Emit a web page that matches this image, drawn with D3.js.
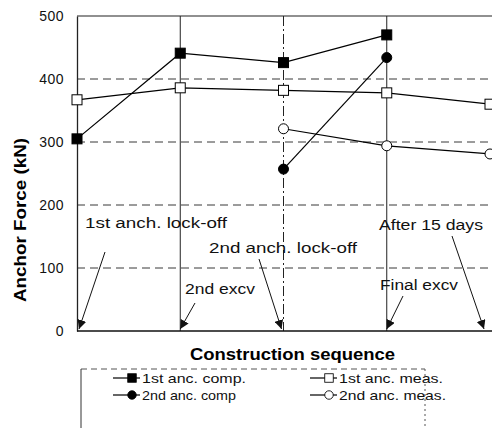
<!DOCTYPE html>
<html><head><meta charset="utf-8">
<script src="https://cdn.jsdelivr.net/npm/d3@7"></script>
<style>body{margin:0;background:#fff}svg{display:block}text{font-family:"Liberation Sans",Arial,sans-serif}</style>
</head><body><svg id="c" width="492" height="428"></svg>
<script>
const stages = [1, 2, 3, 4, 5];
const yTicks = [0, 100, 200, 300, 400, 500];
const s1Comp = [[1, 305], [2, 441], [3, 426], [4, 470]];
const s1Meas = [[1, 367], [2, 386], [3, 382], [4, 378], [5, 360]];
const s2Comp = [[3, 257], [4, 434]];
const s2Meas = [[3, 321], [4, 294], [5, 281]];
const seriesNames = ["1st anc. comp.", "1st anc. meas.", "2nd anc. comp", "2nd anc. meas."];
const annotations = [
  {text: "1st anch. lock-off", stage: 1, tx: 85, ty: 228, w: 142, ax: 105, ay: 252, dx: 2},
  {text: "2nd excv", stage: 2, tx: 185, ty: 294, w: 70, ax: 195, ay: 303, dx: 0},
  {text: "2nd anch. lock-off", stage: 3, tx: 209, ty: 253, w: 148, ax: 259, ay: 259, dx: -2},
  {text: "Final excv", stage: 4, tx: 380, ty: 290, w: 78, ax: 403, ay: 296, dx: 0},
  {text: "After 15 days", stage: 5, tx: 379, ty: 230, w: 104, ax: 452, ay: 236, dx: -6}
];

const svg = d3.select("#c");
const x = d3.scaleLinear().domain([1, 5]).range([77, 490]);
const y = d3.scaleLinear().domain([0, 500]).range([331, 16]);

// grid
const g = svg.append("g");
[100, 200, 300, 400].forEach(v => {
  g.append("line").attr("x1", x(1)).attr("x2", 492).attr("y1", y(v)).attr("y2", y(v))
    .attr("stroke", "#222").attr("stroke-width", 0.9).attr("stroke-dasharray", "8,5");
});
[2, 4].forEach(s => {
  g.append("line").attr("x1", x(s)).attr("x2", x(s)).attr("y1", y(500)).attr("y2", y(0))
    .attr("stroke", "#222").attr("stroke-width", 1);
});
g.append("line").attr("x1", x(3)).attr("x2", x(3)).attr("y1", y(500)).attr("y2", y(0))
  .attr("stroke", "#222").attr("stroke-width", 1).attr("stroke-dasharray", "10,3,2,3");
g.append("line").attr("x1", x(1)).attr("x2", 492).attr("y1", y(500)).attr("y2", y(500)).attr("stroke", "#222").attr("stroke-width", 1.2);

// axes
const yAxis = d3.axisLeft(y).tickValues(yTicks).tickSize(0).tickPadding(13);
const ya = svg.append("g").attr("transform", `translate(${x(1)},0)`).call(yAxis);
ya.select(".domain").attr("stroke", "#222").attr("stroke-width", 1.3);
ya.selectAll("text").attr("font-size", 14).attr("fill", "#111").attr("letter-spacing", 0.5);
const xAxis = d3.axisBottom(x).tickValues([]).tickSize(0);
const xa = svg.append("g").attr("transform", `translate(0,${y(0)})`).call(xAxis);
xa.select(".domain").attr("stroke", "#111").attr("stroke-width", 1.6).attr("d", `M${x(1)},0H492`);

svg.append("text").attr("transform", `translate(26,220) rotate(-90)`).attr("text-anchor", "middle")
  .attr("font-size", 16).attr("font-weight", "bold").attr("textLength", 164).attr("lengthAdjust", "spacingAndGlyphs")
  .text("Anchor Force (kN)");
svg.append("text").attr("x", 190).attr("y", 360)
  .attr("font-size", 16).attr("font-weight", "bold").attr("textLength", 205).attr("lengthAdjust", "spacingAndGlyphs")
  .text("Construction sequence");

// annotations
svg.append("defs").append("marker").attr("id", "ah").attr("viewBox", "0 0 10 10").attr("refX", 10).attr("refY", 5)
  .attr("markerWidth", 9).attr("markerHeight", 9).attr("markerUnits", "userSpaceOnUse").attr("orient", "auto")
  .append("path").attr("d", "M0,0L10,5L0,10z").attr("fill", "#111");
annotations.forEach(a => {
  svg.append("text").attr("x", a.tx).attr("y", a.ty).attr("font-size", 14).attr("fill", "#111")
    .attr("textLength", a.w).attr("lengthAdjust", "spacingAndGlyphs").text(a.text);
  svg.append("line").attr("x1", a.ax).attr("y1", a.ay).attr("x2", x(a.stage) + a.dx).attr("y2", y(0) - 2)
    .attr("stroke", "#111").attr("stroke-width", 1).attr("marker-end", "url(#ah)");
});

// series
const line = d3.line().x(d => x(d[0])).y(d => y(d[1]));
const series = [
  {data: s1Comp, shape: "square", fill: "#000"},
  {data: s1Meas, shape: "square", fill: "#fff"},
  {data: s2Comp, shape: "circle", fill: "#000"},
  {data: s2Meas, shape: "circle", fill: "#fff"}
];
function marker(sel, shape, fill) {
  if (shape === "square") {
    sel.append("rect").attr("x", -5).attr("y", -5).attr("width", 10).attr("height", 10)
      .attr("fill", fill).attr("stroke", "#000").attr("stroke-width", 1);
  } else {
    sel.append("circle").attr("r", 5).attr("fill", fill).attr("stroke", "#000").attr("stroke-width", 1);
  }
}
series.forEach(s => {
  svg.append("path").datum(s.data).attr("d", line).attr("fill", "none").attr("stroke", "#000").attr("stroke-width", 1.2);
  s.data.forEach(d => {
    const m = svg.append("g").attr("transform", `translate(${x(d[0])},${y(d[1])})`);
    marker(m, s.shape, s.fill);
  });
});

// legend
const lg = svg.append("g");
lg.append("line").attr("x1", 81).attr("x2", 425).attr("y1", 369).attr("y2", 369).attr("stroke", "#555").attr("stroke-dasharray", "6,4");
lg.append("line").attr("x1", 81).attr("x2", 81).attr("y1", 369).attr("y2", 428).attr("stroke", "#333");
lg.append("line").attr("x1", 425).attr("x2", 425).attr("y1", 369).attr("y2", 428).attr("stroke", "#555").attr("stroke-dasharray", "2,3");
const legPos = [[113, 378], [310, 378], [113, 395], [310, 395]];
const legW = [104, 104, 94, 107];
series.forEach((s, i) => {
  const [lx, ly] = legPos[i];
  lg.append("line").attr("x1", lx).attr("x2", lx + 27).attr("y1", ly).attr("y2", ly).attr("stroke", "#000").attr("stroke-width", 1.2);
  const m = lg.append("g").attr("transform", `translate(${lx + 19},${ly}) scale(0.85)`);
  marker(m, s.shape, s.fill);
  lg.append("text").attr("x", lx + 29).attr("y", ly + 4.5).attr("font-size", 13).attr("fill", "#111")
    .attr("textLength", legW[i]).attr("lengthAdjust", "spacingAndGlyphs").text(seriesNames[i]);
});
</script></body></html>
